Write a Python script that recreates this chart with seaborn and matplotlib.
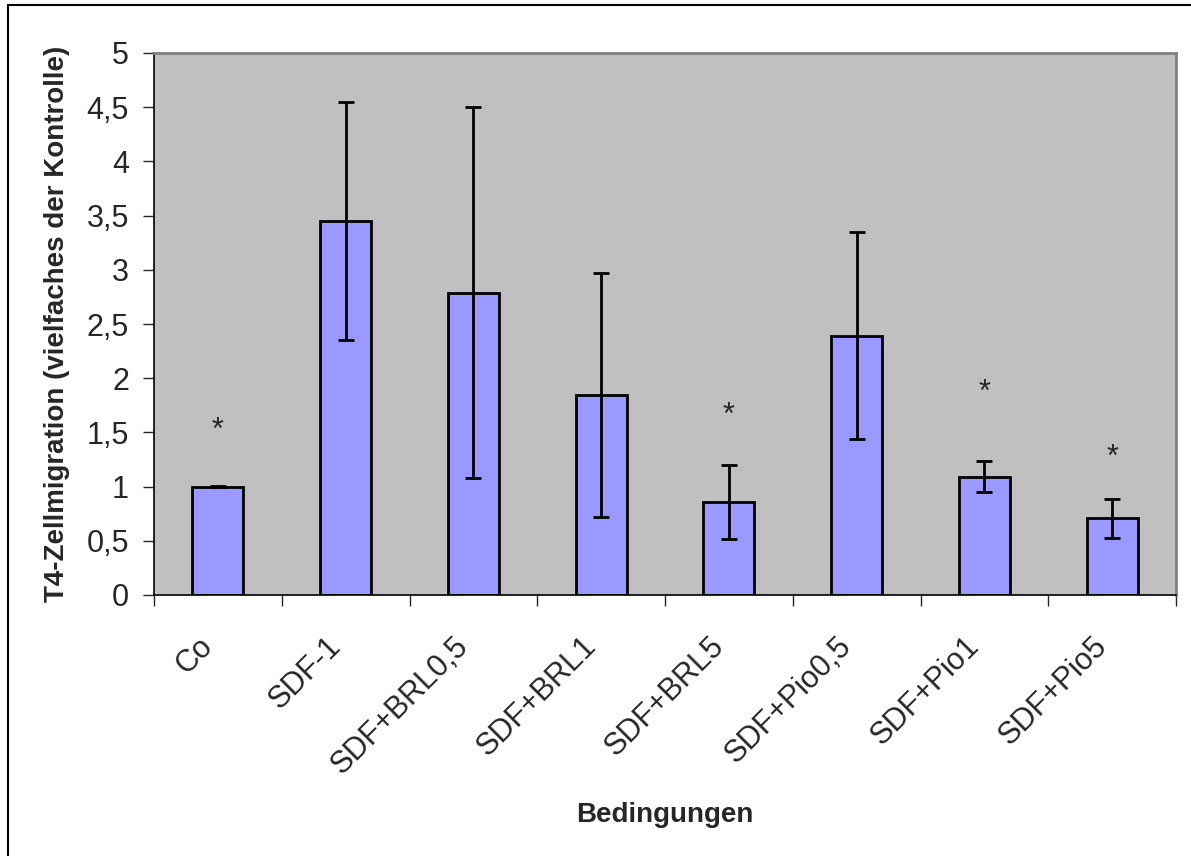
import matplotlib
matplotlib.use("Agg")
import matplotlib.pyplot as plt
import matplotlib.transforms as mtransforms
import seaborn as sns
from matplotlib.patches import Rectangle
from matplotlib.ticker import FuncFormatter, FixedLocator

# Daten
bedingungen = ["Co", "SDF-1", "SDF+BRL0,5", "SDF+BRL1", "SDF+BRL5",
               "SDF+Pio0,5", "SDF+Pio1", "SDF+Pio5"]
migration = [1.0, 3.45, 2.79, 1.845, 0.855, 2.39, 1.09, 0.707]
fehler = [0.005, 1.10, 1.71, 1.125, 0.34, 0.955, 0.143, 0.18]
stern_pos = ["Co", "SDF+BRL5", "SDF+Pio1", "SDF+Pio5"]
stern_hoehe = [1.60, 1.737, 1.953, 1.353]

sns.set_style("white")
plt.rcParams["font.family"] = ["Liberation Sans", "DejaVu Sans"]

fig = plt.figure(figsize=(11.91, 8.56), dpi=100)
ax = fig.add_axes([154 / 1191, 1 - 595 / 856, (1176 - 154) / 1191, (595 - 53) / 856])
ax.set_facecolor("#C0C0C0")

sns.barplot(x=bedingungen, y=migration, color="#9999FF", edgecolor="black",
            linewidth=2, width=0.4, errorbar=None, saturation=1, ax=ax)
ax.errorbar(range(len(bedingungen)), migration, yerr=fehler, fmt="none",
            ecolor="black", elinewidth=2, capsize=5.5, capthick=2, zorder=5)

stern_fs = 22
for name, h in zip(stern_pos, stern_hoehe):
    i = bedingungen.index(name)
    ax.annotate("*", (i, h), xytext=(0, -0.57 * stern_fs), textcoords="offset points",
                ha="center", va="baseline", fontsize=stern_fs)

ax.set_xlim(-0.5, len(bedingungen) - 0.5)
ax.set_ylim(0, 5)
ax.set_yticks([x * 0.5 for x in range(11)])
ax.yaxis.set_major_formatter(FuncFormatter(lambda v, p: f"{v:g}".replace(".", ",")))
ax.tick_params(axis="y", direction="out", length=8, width=1, labelsize=22, pad=10, left=True)

ax.set_xticks(range(len(bedingungen)))
ax.set_xticklabels(bedingungen, rotation=45, ha="right", rotation_mode="anchor", fontsize=22)
ax.xaxis.set_minor_locator(FixedLocator([i - 0.5 for i in range(len(bedingungen) + 1)]))
ax.tick_params(axis="x", which="major", length=0, pad=26)
ax.tick_params(axis="x", which="minor", direction="out", length=8, width=1, bottom=True)
verschiebung = mtransforms.ScaledTranslation(-0.2, 0.0, fig.dpi_scale_trans)
for lab in ax.get_xticklabels():
    lab.set_transform(lab.get_transform() + verschiebung)

ax.set_ylabel("T4-Zellmigration (vielfaches der Kontrolle)", fontsize=20, fontweight="bold", va="center")
ax.yaxis.set_label_coords((57 - 154) / 1022, 0.5)
ax.set_xlabel("Bedingungen", fontsize=20, fontweight="bold", va="center")
ax.xaxis.set_label_coords(0.5, (595 - 815) / 542)

for s in ["left", "bottom"]:
    ax.spines[s].set_color("black")
    ax.spines[s].set_linewidth(1.2)
for s in ["top", "right"]:
    ax.spines[s].set_color("#808080")
    ax.spines[s].set_linewidth(2)

# Rahmen des Diagrammbereichs
fig.patches.append(Rectangle((8 / 1191, -0.2), 1.5, 1.2 - 5 / 856, transform=fig.transFigure,
                             fill=False, edgecolor="black", linewidth=1.5))

fig.savefig("out.png", dpi=100)
